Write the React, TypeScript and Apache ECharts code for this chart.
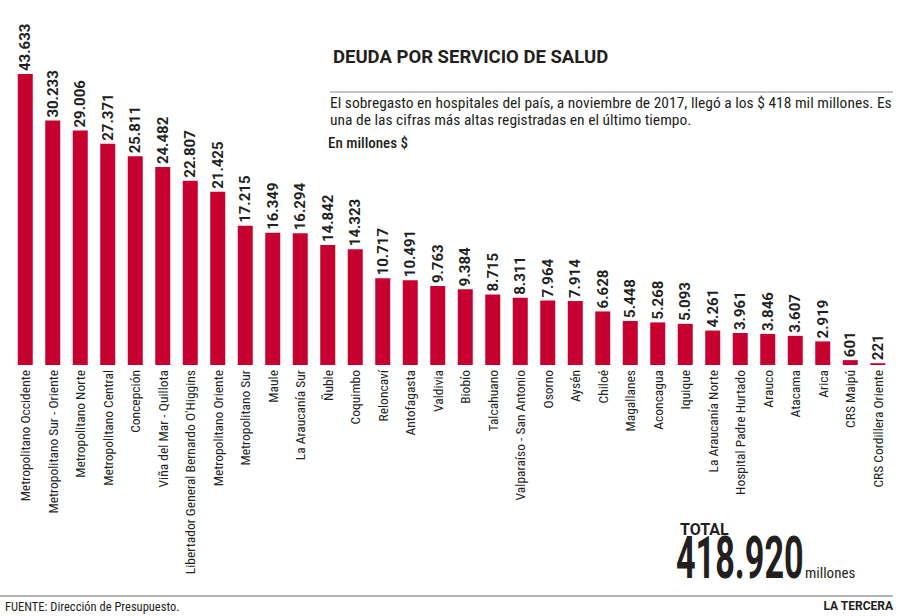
import React, { useEffect, useRef } from "react";
import * as echarts from "echarts";

const categories: string[] = [
  "Metropolitano Occidente",
  "Metropolitano Sur - Oriente",
  "Metropolitano Norte",
  "Metropolitano Central",
  "Concepción",
  "Viña del Mar - Quillota",
  "Libertador General Bernardo O'Higgins",
  "Metropolitano Oriente",
  "Metropolitano Sur",
  "Maule",
  "La Araucanía Sur",
  "Ñuble",
  "Coquimbo",
  "Reloncaví",
  "Antofagasta",
  "Valdivia",
  "Biobío",
  "Talcahuano",
  "Valparaíso - San Antonio",
  "Osorno",
  "Aysén",
  "Chiloé",
  "Magallanes",
  "Aconcagua",
  "Iquique",
  "La Araucanía Norte",
  "Hospital Padre Hurtado",
  "Arauco",
  "Atacama",
  "Arica",
  "CRS Maipú",
  "CRS Cordillera Oriente",
];

// Deuda en millones de $
const values: number[] = [
  43633, 30233, 29006, 27371, 25811, 24482, 22807, 21425, 17215, 16349, 16294,
  14842, 14323, 10717, 10491, 9763, 9384, 8715, 8311, 7964, 7914, 6628, 5448,
  5268, 5093, 4261, 3961, 3846, 3607, 2919, 601, 221,
];

const title = "DEUDA POR SERVICIO DE SALUD";
const subtitleLines: string[] = [
  "El sobregasto en hospitales del país, a noviembre de 2017, llegó a los $ 418 mil millones. Es",
  "una de las cifras más altas registradas en el último tiempo.",
];
const unitText = "En millones $";
const totalLabel = "TOTAL";
const totalValue = "418.920";
const totalUnit = "millones";
const sourceText = "FUENTE: Dirección de Presupuesto.";
const brandText = "LA TERCERA";

const fmt = (v: number) => String(v).replace(/\B(?=(\d{3})+(?!\d))/g, ".");

const NARROW = "'Liberation Sans Narrow', 'Roboto Condensed', Roboto, sans-serif";
const BOLD = "Roboto, 'Liberation Sans', sans-serif";
const INK = "#231f20";

export default function App() {
  const ref = useRef<HTMLDivElement>(null);
  useEffect(() => {
    if (!ref.current) return;
    const chart = echarts.init(ref.current, undefined, { renderer: "svg" });
    chart.setOption({
      animation: false,
      backgroundColor: "#ffffff",
      grid: { left: 11.5, right: 28.5, top: 74, bottom: 251, containLabel: false },
      xAxis: {
        type: "category",
        data: categories,
        axisLine: { show: false },
        axisTick: { show: false },
        axisLabel: {
          interval: 0,
          rotate: 90,
          margin: 5,
          fontFamily: NARROW,
          fontSize: 13.5,
          color: INK,
        },
      },
      yAxis: {
        type: "value",
        min: 0,
        max: 36000,
        show: false,
        splitLine: { show: false },
      },
      series: [
        {
          type: "bar",
          data: values,
          barWidth: 15,
          clip: true,
          itemStyle: { color: "#c6002f" },
          label: {
            show: true,
            position: "top",
            rotate: 90,
            align: "left",
            verticalAlign: "middle",
            distance: 3,
            fontFamily: BOLD,
            fontWeight: "bold",
            fontSize: 15,
            color: INK,
            formatter: (p: any) => fmt(p.value),
          },
        },
      ],
      graphic: [
        {
          type: "text",
          x: 333,
          y: 57,
          style: {
            text: title,
            font: `bold 18.5px ${BOLD}`,
            fill: INK,
            verticalAlign: "middle",
          },
        },
        {
          type: "line",
          shape: { x1: 330, y1: 92, x2: 893, y2: 92 },
          style: { stroke: "#8a8a8a", lineWidth: 1 },
        },
        ...subtitleLines.map((t, i) => ({
          type: "text",
          x: 330,
          y: 103 + i * 17,
          style: {
            text: t,
            font: `15.5px ${NARROW}`,
            fill: INK,
            verticalAlign: "middle",
          },
        })),
        {
          type: "text",
          x: 328,
          y: 143,
          style: {
            text: unitText,
            font: `500 15px ${NARROW}`,
            fill: INK,
            verticalAlign: "middle",
          },
        },
        {
          type: "text",
          x: 680,
          y: 529,
          style: {
            text: totalLabel,
            font: `bold 16px ${BOLD}`,
            fill: INK,
            verticalAlign: "middle",
          },
        },
        {
          type: "text",
          x: 676,
          y: 558,
          scaleX: 0.57,
          style: {
            text: totalValue,
            font: `bold 60px ${BOLD}`,
            fill: INK,
            verticalAlign: "middle",
          },
        },
        {
          type: "text",
          x: 805,
          y: 573,
          style: {
            text: totalUnit,
            font: `15px ${NARROW}`,
            fill: INK,
            verticalAlign: "middle",
          },
        },
        {
          type: "line",
          shape: { x1: 0, y1: 596, x2: 893, y2: 596 },
          style: { stroke: "#9a9a9a", lineWidth: 1.5 },
        },
        {
          type: "text",
          x: 5,
          y: 606,
          style: {
            text: sourceText,
            font: `12.5px ${NARROW}`,
            fill: INK,
            verticalAlign: "middle",
          },
        },
        {
          type: "text",
          x: 893,
          y: 606,
          style: {
            text: brandText,
            font: `bold 12px ${BOLD}`,
            fill: INK,
            align: "right",
            verticalAlign: "middle",
          },
        },
      ],
    });
    return () => chart.dispose();
  }, []);
  return (
    <div
      ref={ref}
      style={{ position: "fixed", left: 0, top: 0, width: 920, height: 616 }}
    />
  );
}
